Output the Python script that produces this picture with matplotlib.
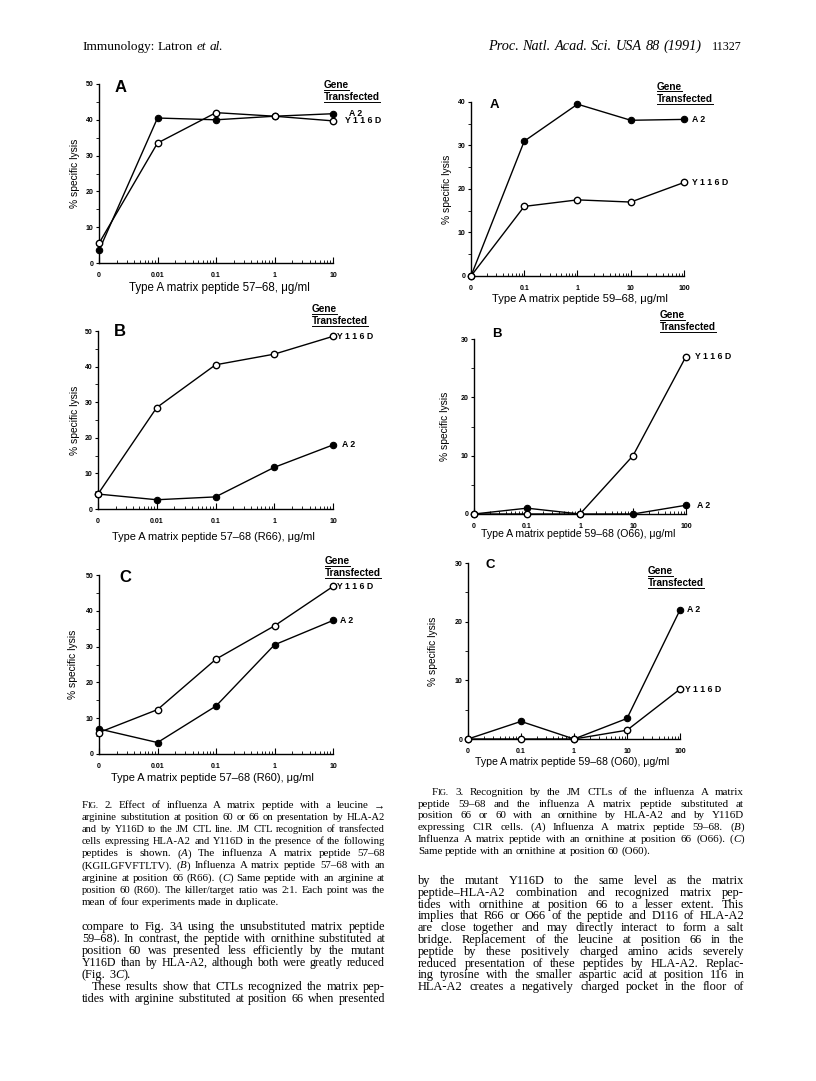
import numpy as np
import matplotlib
matplotlib.use("Agg")
import matplotlib.pyplot as plt
from matplotlib.font_manager import FontProperties
from matplotlib.lines import Line2D

plt.rcParams["font.family"] = ["Liberation Sans", "DejaVu Sans"]

W, H = 816, 1081
fig = plt.figure(figsize=(W / 100, H / 100), dpi=100)
fig.patch.set_facecolor("white")
renderer = fig.canvas.get_renderer()

# ---- datos ----
conc_fig2 = ["0", "0.01", "0.1", "1", "10"]
conc_fig3 = ["0", "0.1", "1", "10", "100"]

f2a_a2 = [3.5, 40.5, 40.0, 41.0, 41.7]
f2a_y116d = [5.5, 33.5, 42.0, 41.0, 39.7]
f2b_a2 = [4.2, 2.6, 3.4, 11.7, 18.0]
f2b_y116d = [4.2, 28.5, 40.5, 43.5, 48.5]
f2c_a2 = [7.0, 3.2, 13.4, 30.5, 37.3]
f2c_y116d = [6.0, 12.4, 26.5, 35.8, 46.8]

f3a_a2 = [0.0, 31.0, 39.5, 35.8, 36.0]
f3a_y116d = [0.0, 16.0, 17.5, 17.0, 21.5]
f3b_a2 = [0.0, 1.0, 0.0, 0.0, 1.5]
f3b_y116d = [0.0, 0.0, 0.0, 10.0, 27.0]
f3c_a2 = [0.0, 3.0, 0.0, 3.5, 22.0]
f3c_y116d = [0.0, 0.0, 0.0, 1.5, 8.5]

xlab_2a = "Type A matrix peptide 57\u201368, \u03bcg/ml"
xlab_2b = "Type A matrix peptide 57\u201368 (R66), \u03bcg/ml"
xlab_2c = "Type A matrix peptide 57\u201368 (R60), \u03bcg/ml"
xlab_3a = "Type A matrix peptide 59\u201368, \u03bcg/ml"
xlab_3b = "Type A matrix peptide 59\u201368 (O66), \u03bcg/ml"
xlab_3c = "Type A matrix peptide 59\u201368 (O60), \u03bcg/ml"


def fx(x):
    return x / W


def fy(y):
    return 1 - y / H


def panel(box, conc, a2, y116d, ymax, letter, letter_xy, letter_size,
          gene_x, gene_y, off_a2, off_y, ylab_x, xlab, xlab_xy, xlab_size):
    left, top, right, bottom = box
    ax = fig.add_axes([fx(left), fy(bottom), (right - left) / W, (bottom - top) / H])
    x = np.arange(len(conc))
    ax.plot(x, a2, color="black", lw=1.0, zorder=2, clip_on=False)
    ax.plot(x, y116d, color="black", lw=1.0, zorder=2, clip_on=False)
    ax.plot(x, a2, "o", ms=4.6, mfc="black", mec="black", mew=0.8, zorder=3, clip_on=False)
    ax.plot(x, y116d, "o", ms=4.6, mfc="white", mec="black", mew=1.0, zorder=4, clip_on=False)

    ax.spines[["top", "right"]].set_visible(False)
    ax.spines[["left", "bottom"]].set_linewidth(1.0)
    ax.set_xlim(0, len(conc) - 1)
    ax.set_ylim(0, ymax)
    ax.set_xticks(x, conc)
    minor = [i + np.log10(k) for i in range(len(conc) - 1) for k in range(2, 10)]
    ax.set_xticks(minor, minor=True)
    ax.set_yticks(range(0, ymax + 1, 10))
    ax.set_yticks(range(5, ymax, 10), minor=True)
    ax.tick_params(axis="x", which="major", direction="in", length=4, width=0.8, pad=6.5, labelsize=5.0)
    ax.tick_params(axis="x", which="minor", direction="in", length=2.5, width=0.6)
    ax.tick_params(axis="y", which="major", direction="out", length=2.5, width=0.8, pad=1.5, labelsize=5.0)
    ax.tick_params(axis="y", which="minor", direction="out", length=2, width=0.6)
    for lbl in ax.get_xticklabels() + ax.get_yticklabels():
        lbl.set_fontweight("bold")

    ax.annotate("A 2", xy=(x[-1], a2[-1]), xytext=(off_a2, 0), textcoords="offset pixels",
                va="center", ha="left", fontsize=6.3, fontweight="bold")
    ax.annotate("Y 1 1 6 D", xy=(x[-1], y116d[-1]), xytext=(off_y, 0), textcoords="offset pixels",
                va="center", ha="left", fontsize=6.3, fontweight="bold")

    fig.text(fx(letter_xy[0]), fy(letter_xy[1]), letter, fontsize=letter_size,
             fontweight="bold", ha="center", va="center")
    for word, yy in [("Gene", gene_y), ("Transfected", gene_y + 12)]:
        t = fig.text(fx(gene_x), fy(yy + 3), word, fontsize=7.2, fontweight="bold",
                     ha="left", va="baseline")
        bb = t.get_window_extent(renderer)
        fig.add_artist(Line2D([bb.x0 / W, bb.x1 / W], [fy(yy + 4.5)] * 2,
                              transform=fig.transFigure, color="black", lw=0.7))

    fig.text(fx(ylab_x), fy((top + bottom) / 2), "% specific lysis", rotation=90,
             fontsize=7.4, ha="center", va="center")
    fig.text(fx(xlab_xy[0]), fy(xlab_xy[1]), xlab, fontsize=xlab_size, ha="center", va="center")
    return ax


panel((99, 84, 333, 263), conc_fig2, f2a_a2, f2a_y116d, 50, "A", (121, 87), 12,
      324, 85, 16, 12, 75, xlab_2a, (219, 288), 8.3)
panel((98, 331, 333, 509), conc_fig2, f2b_a2, f2b_y116d, 50, "B", (120, 332), 12,
      312, 309, 9, 4, 75, xlab_2b, (213, 537), 7.9)
panel((99, 575, 333, 754), conc_fig2, f2c_a2, f2c_y116d, 50, "C", (125, 578), 12,
      325, 561, 7, 4, 73, xlab_2c, (212, 778), 7.9)
panel((471, 102, 684, 276), conc_fig3, f3a_a2, f3a_y116d, 40, "A", (494, 105), 9.5,
      657, 87, 8, 8, 447, xlab_3a, (580, 299), 8.1)
panel((474, 339, 686, 514), conc_fig3, f3b_a2, f3b_y116d, 30, "B", (497, 334), 9.5,
      660, 315, 11, 9, 445, xlab_3b, (578, 534), 7.6)
panel((468, 563, 680, 739), conc_fig3, f3c_a2, f3c_y116d, 30, "C", (490, 565), 9.5,
      648, 571, 7, 5, 433, xlab_3c, (572, 762), 7.6)


# ---- texto de la pagina (justificado) ----
def props(size, italic):
    return FontProperties(family="Liberation Serif", size=size,
                          style="italic" if italic else "normal")


def width(s, prop):
    return renderer.get_text_width_height_descent(s, prop, ismath=False)[0]


def space(size):
    p = props(size, False)
    return width("a a", p) - width("aa", p)


def parse(word, size, italic_all=False):
    if word == "FIG.":
        # versalitas
        return [("F", props(size, False)), ("IG.", props(size * 0.78, False))]
    segs = []
    for i, part in enumerate(word.split("*")):
        if part:
            segs.append((part, props(size, italic_all or i % 2 == 1)))
    return segs


def word_widths(line, size, italic_all=False):
    words = [parse(w, size, italic_all) for w in line.split(" ") if w]
    return words, [sum(width(s, p) for s, p in wd) for wd in words]


def natural(line, size, italic_all=False):
    words, ws = word_widths(line, size, italic_all)
    return sum(ws) + space(size) * (len(ws) - 1)


def fit(line, target, italic_all=False):
    return 10 * target / natural(line, 10, italic_all)


def text_line(line, x0, x1, y, size, justify=True, italic_all=False):
    if justify:
        # si la linea no cabe, se reduce solo esa linea
        size = min(size, fit(line, (x1 - x0) * 0.97, italic_all))
    words, widths = word_widths(line, size, italic_all)
    if justify and len(words) > 1:
        gap = (x1 - x0 - sum(widths)) / (len(words) - 1)
    else:
        gap = space(size)
    x = x0
    for wd, ww in zip(words, widths):
        xx = x
        for s, p in wd:
            fig.text(fx(xx), fy(y + 3), s, fontproperties=p, ha="left", va="baseline")
            xx += width(s, p)
        x += ww + gap


def paragraph(lines, x0, x1, y0, dy, size, last_free=True, indents=None):
    indents = indents or {}
    for i, ln in enumerate(lines):
        just = not (last_free and i == len(lines) - 1)
        text_line(ln, x0 + indents.get(i, 0), x1, y0 + i * dy, size, justify=just)


# encabezado
hdr_left = "Immunology: Latron *et* *al.*"
hdr_mid = "Proc. Natl. Acad. Sci. USA 88 (1991)"
hdr_page = "11327"
text_line(hdr_left, 82, 222, 47, fit(hdr_left, 140), justify=False)
text_line(hdr_mid, 488, 702, 47, fit(hdr_mid, 214, True), justify=False, italic_all=True)
text_line(hdr_page, 712, 742, 47, fit(hdr_page, 30), justify=False)

cap2 = [
    "FIG. 2.  Effect of influenza A matrix peptide with a leucine \u2192",
    "arginine substitution at position 60 or 66 on presentation by HLA-A2",
    "and by Y116D to the JM CTL line. JM CTL recognition of transfected",
    "cells expressing HLA-A2 and Y116D in the presence of the following",
    "peptides is shown. (*A*) The influenza A matrix peptide 57\u201368",
    "(KGILGFVFTLTV). (*B*) Influenza A matrix peptide 57\u201368 with an",
    "arginine at position 66 (R66). (*C*) Same peptide with an arginine at",
    "position 60 (R60). The killer/target ratio was 2:1. Each point was the",
    "mean of four experiments made in duplicate.",
]
cap3 = [
    "FIG. 3.  Recognition by the JM CTLs of the influenza A matrix",
    "peptide 59\u201368 and the influenza A matrix peptide substituted at",
    "position 66 or 60 with an ornithine by HLA-A2 and by Y116D",
    "expressing C1R cells. (*A*) Influenza A matrix peptide 59\u201368. (*B*)",
    "Influenza A matrix peptide with an ornithine at position 66 (O66). (*C*)",
    "Same peptide with an ornithine at position 60 (O60).",
]
body_left1 = [
    "compare to Fig. 3*A* using the unsubstituted matrix peptide",
    "59\u201368). In contrast, the peptide with ornithine substituted at",
    "position 60 was presented less efficiently by the mutant",
    "Y116D than by HLA-A2, although both were greatly reduced",
    "(Fig. 3*C*).",
]
body_left2 = [
    "These results show that CTLs recognized the matrix pep-",
    "tides with arginine substituted at position 66 when presented",
]
body_right = [
    "by the mutant Y116D to the same level as the matrix",
    "peptide\u2013HLA-A2 combination and recognized matrix pep-",
    "tides with ornithine at position 66 to a lesser extent. This",
    "implies that R66 or O66 of the peptide and D116 of HLA-A2",
    "are close together and may directly interact to form a salt",
    "bridge. Replacement of the leucine at position 66 in the",
    "peptide by these positively charged amino acids severely",
    "reduced presentation of these peptides by HLA-A2. Replac-",
    "ing tyrosine with the smaller aspartic acid at position 116 in",
    "HLA-A2 creates a negatively charged pocket in the floor of",
]

cap_size = 7.9
body_size = 8.9

paragraph(cap2, 82, 385, 805, 12.1, cap_size)
paragraph(cap3, 418, 744, 792, 11.7, cap_size, indents={0: 14})
paragraph(body_left1, 82, 385, 927, 12, body_size)
paragraph(body_left2, 82, 385, 987, 12, body_size, last_free=False, indents={0: 10})
paragraph(body_right, 418, 744, 881, 11.8, body_size, last_free=False)

fig.savefig("out.png", dpi=100)
